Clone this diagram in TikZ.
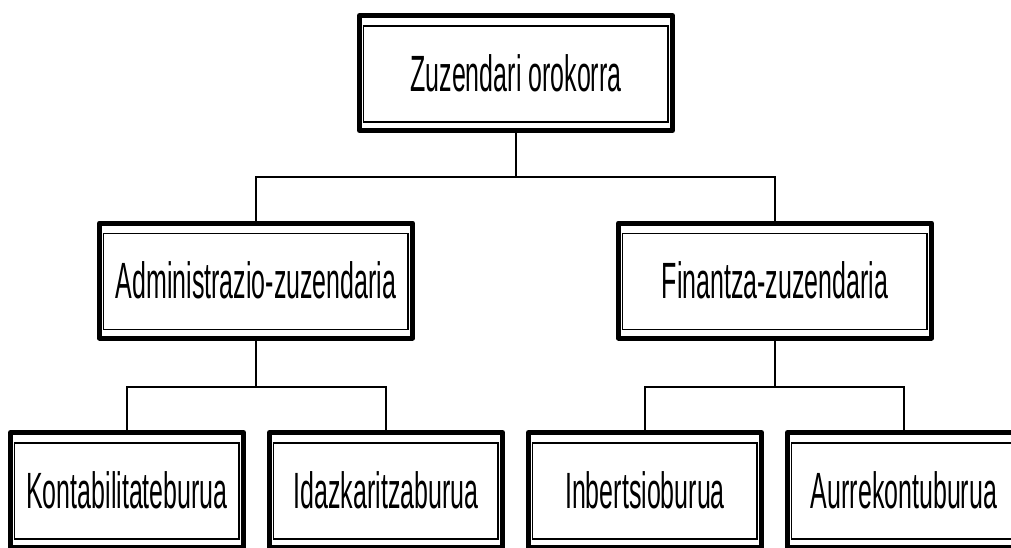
\documentclass[tikz,border=0pt]{standalone}
\usepackage{fontspec}
\newfontfamily\orgfont[FakeStretch=0.49]{Liberation Sans}
\usetikzlibrary{calc}
\begin{document}
\begin{tikzpicture}[x=1pt,y=-1pt,
  orgbox/.style={draw, line width=5pt, line join=round, outer sep=0pt,
    inner sep=0pt, minimum height=115pt, text depth=0pt,
    font=\orgfont\fontsize{51}{60}\selectfont},
  wide/.style={orgbox, minimum width=313pt},
  narrow/.style={orgbox, minimum width=233pt},
  innerframe/.style={line width=1.3pt},
  link/.style={line width=1.3pt}]

% page frame
\useasboundingbox (0,0) rectangle (1011,547);
\fill[white] (0,0) rectangle (1011,547);
\clip (0,0) rectangle (1011,547);

% boxes
\node[wide]   (top) at (516,73)    {Zuzendari orokorra};
\node[wide]   (adm) at (256,280.5) {Administrazio-zuzendaria};
\node[wide]   (fin) at (775,280.5) {Finantza-zuzendaria};
\node[narrow] (kon) at (127,490)   {Kontabilitateburua};
\node[narrow] (ida) at (386,490)   {Idazkaritzaburua};
\node[narrow] (inb) at (645,490)   {Inbertsioburua};
\node[narrow] (aur) at (904,490)   {Aurrekontuburua};

% thin inner frames
\foreach \n in {top,adm,fin,kon,ida,inb,aur}
  \draw[innerframe] ($(\n.north west)+(4,10.5)$) rectangle ($(\n.south east)+(-4.5,-8.5)$);

% connectors
\coordinate (j0) at (516,177);
\coordinate (j1) at (256,387);
\coordinate (j2) at (775,387);
\draw[link] (top.south) -- (j0);
\draw[link] (adm.north) |- (j0) -| (fin.north);
\draw[link] (adm.south) -- (j1);
\draw[link] (kon.north) |- (j1) -| (ida.north);
\draw[link] (fin.south) -- (j2);
\draw[link] (inb.north) |- (j2) -| (aur.north);
\end{tikzpicture}
\end{document}
